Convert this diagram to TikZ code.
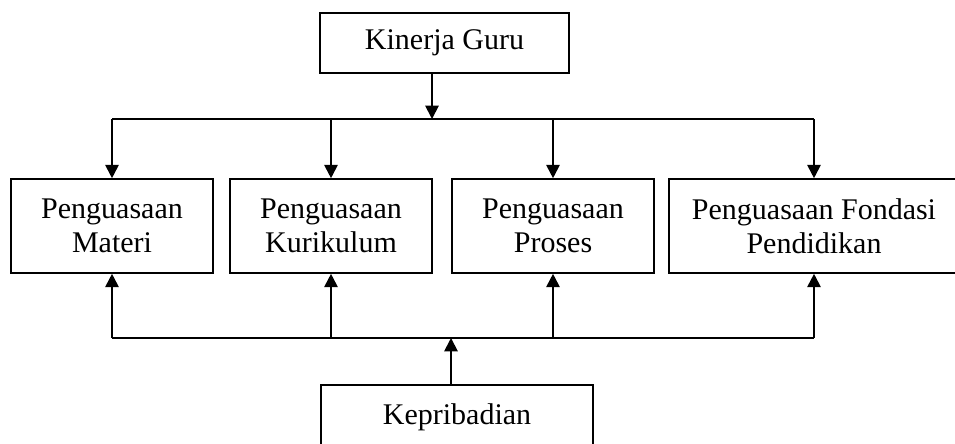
\documentclass[tikz,border=0pt]{standalone}
\usepackage{fontspec}
\setmainfont{Liberation Serif}
\usetikzlibrary{arrows.meta}

\begin{document}
\begin{tikzpicture}[x=0.75pt, y=-0.75pt,
	kotak/.style={draw, line width=1.2pt, minimum width=#1, minimum height=70.5pt, inner sep=0pt, align=center, font=\fontsize{22.5}{25.5}\selectfont},
	garis/.style={line width=1.4pt},
	panah/.style={line width=1.4pt, -{Triangle[length=10pt, width=10pt]}}]
			%%%%% START %%%%%
			
			\useasboundingbox (0, 0) rectangle (955, 443);
			\clip (0, 0) rectangle (955, 443);
			
			\node[kotak=186.75pt, minimum height=45pt] (kinerja) at (444.5, 43) {Kinerja Guru};
			
			\node[kotak=151.5pt] (materi) at (112, 226) {Penguasaan\\Materi};
			\node[kotak=151.5pt] (kurikulum) at (331, 226) {Penguasaan\\Kurikulum};
			\node[kotak=151.5pt] (proses) at (553, 226) {Penguasaan\\Proses};
			\node[kotak=217.5pt] (fondasi) at (814, 226) {Penguasaan Fondasi\\Pendidikan};
			
			\node[kotak=204pt, minimum height=48.75pt] (kepribadian) at (457, 417.5) {\raisebox{4pt}{Kepribadian}};
			
			\coordinate (atas) at (432, 73);
			\coordinate (simpulatas) at (432, 119);
			\coordinate (bawah) at (451, 385);
			\coordinate (simpulbawah) at (451, 338);
			
			\draw[panah] (atas) -- (simpulatas);
			\draw[garis] (materi.north |- simpulatas) -- (fondasi.north |- simpulatas);
			\draw[panah] (materi.north |- simpulatas) -- (materi.north);
			\draw[panah] (kurikulum.north |- simpulatas) -- (kurikulum.north);
			\draw[panah] (proses.north |- simpulatas) -- (proses.north);
			\draw[panah] (fondasi.north |- simpulatas) -- (fondasi.north);
			
			\draw[panah] (bawah) -- (simpulbawah);
			\draw[garis] (materi.south |- simpulbawah) -- (fondasi.south |- simpulbawah);
			\draw[panah] (materi.south |- simpulbawah) -- (materi.south);
			\draw[panah] (kurikulum.south |- simpulbawah) -- (kurikulum.south);
			\draw[panah] (proses.south |- simpulbawah) -- (proses.south);
			\draw[panah] (fondasi.south |- simpulbawah) -- (fondasi.south);
			
			%%%%% END %%%%%
\end{tikzpicture}
\end{document}
